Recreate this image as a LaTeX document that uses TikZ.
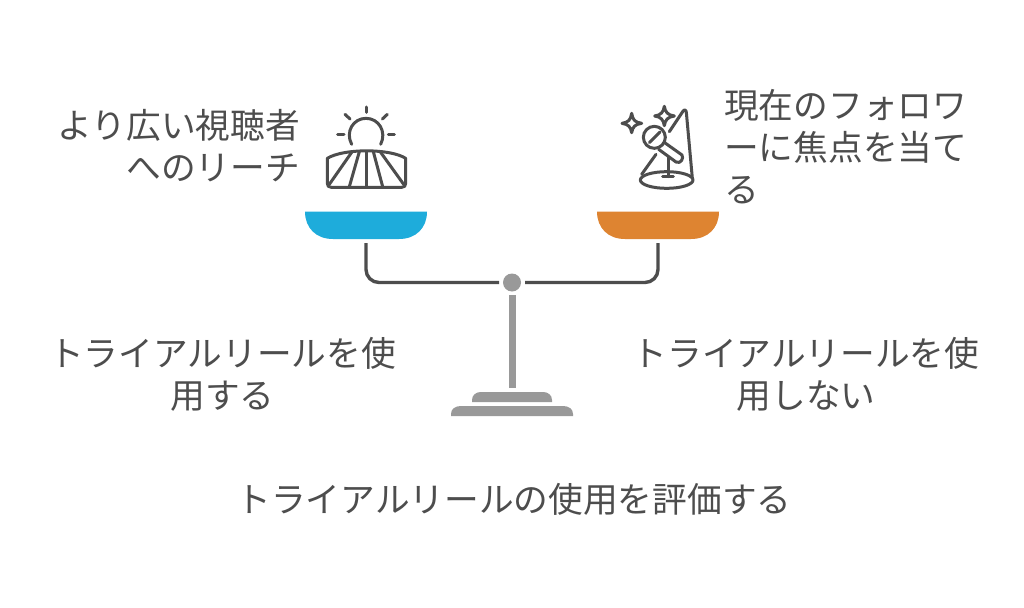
\documentclass[tikz,border=0pt]{standalone}
\usepackage{fontspec}
\setmainfont{Noto Sans CJK JP}[BoldFont={Noto Sans CJK JP}]
\definecolor{ink}{HTML}{4D4D4D}
\definecolor{stand}{HTML}{999999}
\definecolor{panblue}{HTML}{1EACDB}
\definecolor{panorange}{HTML}{DE8431}
\tikzset{
  label text/.style={text=ink,font=\fontsize{34.7}{42}\selectfont,inner sep=0pt},
  beam/.style={draw=ink,line width=3.4pt},
  icon/.style={draw=ink,line width=3pt,line cap=round,line join=round},
}
\begin{document}
\begin{tikzpicture}[x=1pt,y=-1pt]
\useasboundingbox (0,0) rectangle (1024,607);
\fill[white] (0,0) rectangle (1024,607);
% pans
\fill[panblue] (305,211.5) -- (427,211.5) .. controls (427,228) and (416,239) .. (399,239) -- (333,239) .. controls (316,239) and (305,228) .. (305,211.5) -- cycle;
\fill[panorange] (597,211.5) -- (719,211.5) .. controls (719,228) and (708,239) .. (691,239) -- (625,239) .. controls (608,239) and (597,228) .. (597,211.5) -- cycle;
% pivot and beam
\node[circle,fill=stand,minimum size=18pt,inner sep=0pt] (pivot) at (512,282.5) {};
\coordinate (panL) at (366,243);
\coordinate (panR) at (658,243);
\coordinate (beamL) at (499,282.5);
\coordinate (beamR) at (525,282.5);
\draw[beam,rounded corners=13pt] (panL) |- (beamL);
\draw[beam,rounded corners=13pt] (panR) |- (beamR);
% stand
\coordinate (stemTop) at (512,295);
\coordinate (stemBot) at (512,388);
\draw[stand,line width=7pt] (stemTop) -- (stemBot);
\fill[stand] (472,402) -- (472,400) .. controls (472,395) and (476,392) .. (481,392) -- (543,392) .. controls (548,392) and (552,395) .. (552,400) -- (552,402) -- cycle;
\fill[stand] (451,416) -- (451,414) .. controls (451,409) and (455,406) .. (461,406) -- (563,406) .. controls (569,406) and (573,409) .. (573,414) -- (573,416) -- cycle;
% sun icon
\begin{scope}[shift={(310,95)},scale=1/3]
\draw[icon] (125,148) .. controls (105,110) and (130,70) .. (168,70) .. controls (206,70) and (231,110) .. (212,148);
\draw[icon] (168,36) -- (168,52);
\draw[icon] (105,58) -- (120,72);
\draw[icon] (232,58) -- (217,72);
\draw[icon] (83,120) -- (102,120);
\draw[icon] (235,120) -- (253,120);
\draw[icon] (52,190) .. controls (100,160) and (240,160) .. (287,190) -- (287,265) .. controls (287,273) and (283,277) .. (275,277) -- (64,277) .. controls (56,277) and (52,273) .. (52,265) -- cycle;
\draw[icon] (168,170) -- (168,277);
\draw[icon] (125,172) -- (58,268);
\draw[icon] (148,170) -- (118,275);
\draw[icon] (190,170) -- (218,275);
\draw[icon] (212,172) -- (281,268);
\end{scope}
% microphone icon
\begin{scope}[shift={(610,95)},scale=1/3]
\draw[icon] (65,55) .. controls (68,75) and (75,82) .. (95,85) .. controls (75,88) and (68,95) .. (65,113) .. controls (62,95) and (55,88) .. (36,85) .. controls (55,82) and (62,75) .. (65,55) -- cycle;
\draw[icon] (163,34) .. controls (166,52) and (173,60) .. (193,63) .. controls (173,66) and (166,74) .. (163,92) .. controls (160,74) and (153,66) .. (134,63) .. controls (153,60) and (160,52) .. (163,34) -- cycle;
\draw[icon] (133,127) circle[radius=33];
\draw[icon] (118,143) -- (150,111);
\draw[icon] (164,143) -- (216,180) .. controls (222,190) and (212,208) .. (198,201) -- (146,163);
\draw[icon] (175,187) -- (175,245);
\draw[icon] (158,245) -- (190,245);
\draw[icon] (170,255) ellipse[x radius=79,y radius=25];
\draw[icon] (95,238) -- (138,178);
\draw[icon] (178,110) -- (218,50) .. controls (223,42) and (228,44) .. (229,52) -- (247,250);
\end{scope}
% labels
\node[label text,align=right,anchor=east] (reach) at (300,146) {より広い視聴者\\へのリーチ};
\node[label text,align=left,anchor=west] (focus) at (724,147) {現在のフォロワ\\ーに焦点を当て\\る};
\node[label text,align=center] (use) at (222.5,374) {トライアルリールを使\\用する};
\node[label text,align=center] (nouse) at (806,374) {トライアルリールを使\\用しない};
\node[label text] (title) at (514,499) {トライアルリールの使用を評価する};
\end{tikzpicture}
\end{document}
